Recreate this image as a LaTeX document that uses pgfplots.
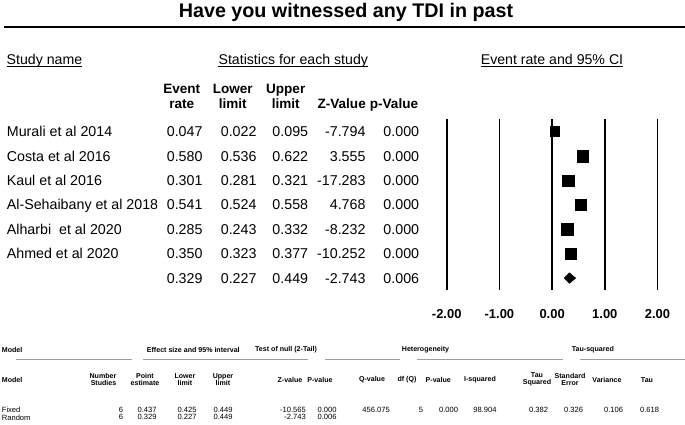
\documentclass[border=0pt]{standalone}
\usepackage{fontspec}
\setmainfont{Liberation Sans}
\usepackage{pgfplots}
\pgfplotsset{compat=1.18}
\newcommand\fs[1]{\fontsize{#1}{#1}\selectfont}
\begin{document}
\begin{tikzpicture}
\path[use as bounding box] (0,0) rectangle (685bp,-425bp);
\begin{scope}[x=1bp,y=-1bp]
% title
\node[anchor=base, font=\bfseries\fs{19.8}, inner sep=0] at (346,17) {Have you witnessed any TDI in past};
\draw[line width=2.2bp] (4.5,26.7) -- (685,26.7);
% section headers
\node[anchor=base west, inner sep=0, font=\fs{14.2}] (sn) at (6.5,64.3) {Study name};
\node[anchor=base, inner sep=0, font=\fs{14.2}] (ss) at (293.3,64.3) {Statistics for each study};
\node[anchor=base, inner sep=0, font=\fs{14.2}] (er) at (552,64.3) {Event rate and 95\% CI};
\foreach \n in {sn,ss,er}{
  \draw[line width=0.9bp] ([yshift=-2.6bp]\n.base west) -- ([yshift=-2.6bp]\n.base east);
}
% column headers
\begin{scope}[every node/.style={anchor=base, inner sep=0, font=\bfseries\fs{13.6}}]
\node at (181.7,93.3) {Event};
\node at (232.7,93.3) {Lower};
\node at (285.7,93.3) {Upper};
\node at (181.7,108.3) {rate};
\node at (232.7,108.3) {limit};
\node at (285.7,108.3) {limit};
\node at (341.7,108.3) {Z-Value};
\node at (394,108.3) {p-Value};
\end{scope}
% rows
\begin{scope}[every node/.style={inner sep=0, font=\fs{14.3}}]
\foreach \name [count=\i] in {Murali et al 2014,Costa et al 2016,Kaul et al 2016,Al-Sehaibany et al 2018,Alharbi\ \ et al 2020,Ahmed et al 2020}{
  \node[anchor=base west] at (6.7,{136.6+24.45*(\i-1)}) {\name};
}
\foreach \a/\b/\c/\d/\e [count=\i] in {
  0.047/0.022/0.095/-7.794/0.000,
  0.580/0.536/0.622/3.555/0.000,
  0.301/0.281/0.321/-17.283/0.000,
  0.541/0.524/0.558/4.768/0.000,
  0.285/0.243/0.332/-8.232/0.000,
  0.350/0.323/0.377/-10.252/0.000,
  0.329/0.227/0.449/-2.743/0.006}{
  \pgfmathsetmacro\yy{136.6+24.45*(\i-1)}
  \node[anchor=base east] at (202.7,\yy) {\a};
  \node[anchor=base east] at (256.7,\yy) {\b};
  \node[anchor=base east] at (308.3,\yy) {\c};
  \node[anchor=base east] at (365.7,\yy) {\d};
  \node[anchor=base east] at (419.3,\yy) {\e};
}
\end{scope}
% bottom summary table
\begin{scope}[every node/.style={inner sep=0, font=\bfseries\fs{7.1}}]
\node[anchor=west] at (1.7,349.5) {Model};
\node[anchor=west] at (146.7,349.5) {Effect size and 95\% interval};
\node[anchor=west] at (255,349.5) {Test of null (2-Tail)};
\node[anchor=west] at (401.7,349.5) {Heterogeneity};
\node[anchor=west] at (571.7,349.5) {Tau-squared};
\end{scope}
\begin{scope}[line width=1.1bp, draw=black!38]
\draw (16,359.5) -- (131.7,359.5);
\draw (143.3,359.5) -- (308.3,359.5);
\draw (325,359.5) -- (400,359.5);
\draw (416.7,359.5) -- (563.3,359.5);
\draw (580,359.5) -- (685,359.5);
\end{scope}
\begin{scope}[every node/.style={inner sep=0, font=\bfseries\fs{7.1}, align=center}]
\node[anchor=west] at (1.7,380) {Model};
\node[anchor=east, align=right] at (116.5,379.5) {Number\\[-0.3bp]Studies};
\node at (145,379.5) {Point\\[-0.3bp]estimate};
\node at (185,379.5) {Lower\\[-0.3bp]limit};
\node at (223,379.5) {Upper\\[-0.3bp]limit};
\node at (290,380) {Z-value};
\node at (320,380) {P-value};
\node at (372,380) {Q-value};
\node at (407,380) {df (Q)};
\node at (438.3,380) {P-value};
\node at (480,380) {I-squared};
\node at (537,379.5) {Tau\\[-0.3bp]Squared};
\node at (570,379.5) {Standard\\[-0.3bp]Error};
\node at (607,380) {Variance};
\node at (647,380) {Tau};
\end{scope}
\begin{scope}[every node/.style={inner sep=0, font=\fs{7.6}}]
\node[anchor=west] at (1.7,409.5) {Fixed};
\node[anchor=west] at (1.7,417.3) {Random};
\foreach \x/\t in {123.3/6,156.7/0.437,196.7/0.425,232.7/0.449,306/-10.565,336.7/0.000,390/456.075,423.3/5,458.3/0.000,496.7/98.904,548.3/0.382,583.3/0.326,623.3/0.106,659.3/0.618}{
  \node[anchor=east] at (\x,409.5) {\t};
}
\foreach \x/\t in {123.3/6,156.7/0.329,196.7/0.227,232.7/0.449,306/-2.743,336.7/0.006}{
  \node[anchor=east] at (\x,417.3) {\t};
}
\end{scope}
\end{scope}
% forest plot
\begin{axis}[at={(446.7bp,-290.3bp)}, anchor=south west, scale only axis,
  width=210.8bp, height=171bp, xmin=-2, xmax=2, ymin=0.5, ymax=7.5,
  y dir=reverse, clip=false, axis line style={draw=none},
  major tick length=0pt, ytick=\empty,
  xtick={-2,-1,0,1,2}, xticklabels={-2.00,-1.00,0.00,1.00,2.00},
  xticklabel style={font=\bfseries\fs{13}, yshift=-15.5bp},
  xmajorgrids, grid style={black, line width=1.6bp}]
\addplot[only marks, mark=square*, mark size=4.9bp, mark options={fill=black,draw=black,line width=0.3bp},
  error bars/.cd, x dir=both, x explicit, error mark=none]
  coordinates {(0.047,1) += (0.048,0) -= (0.025,0)};
\addplot[only marks, mark=square*, mark size=5.7bp, mark options={fill=black,draw=black,line width=0.3bp},
  error bars/.cd, x dir=both, x explicit, error mark=none]
  coordinates {
  (0.580,2) += (0.042,0) -= (0.044,0)
  (0.301,3) += (0.020,0) -= (0.020,0)
  (0.541,4) += (0.017,0) -= (0.017,0)
  (0.285,5) += (0.047,0) -= (0.042,0)
  (0.350,6) += (0.027,0) -= (0.027,0)};
\addplot[fill=black, draw=black, line width=0.3bp] coordinates {(0.227,7) (0.329,6.78) (0.449,7) (0.329,7.22) (0.227,7)};
\end{axis}
\end{tikzpicture}
\end{document}
